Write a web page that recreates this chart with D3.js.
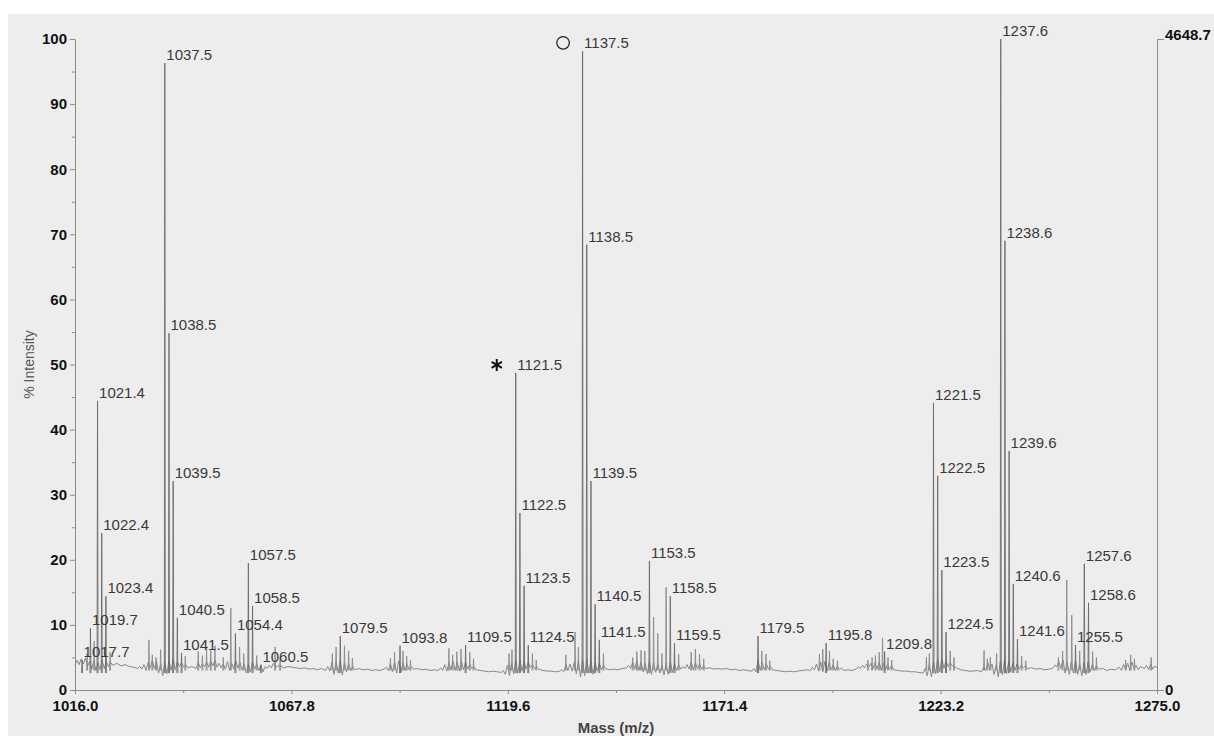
<!DOCTYPE html>
<html><head><meta charset="utf-8">
<script src="https://cdn.jsdelivr.net/npm/d3@7"></script>
<style>html,body{margin:0;padding:0;background:#fff;} svg{display:block;}</style>
</head><body>
<svg id="chart" width="1214" height="736"></svg>
<script>
// ---------------- DATA ----------------
const xTickValues = [1016.0, 1067.8, 1119.6, 1171.4, 1223.2, 1275.0];
const xMinorTicks = [1041.9, 1093.7, 1145.5, 1197.3, 1249.1];
const yTickValues = [0, 10, 20, 30, 40, 50, 60, 70, 80, 90, 100];
const yMinorTicks = [5, 15, 25, 35, 45, 55, 65, 75, 85, 95];
const fullScaleLabel = "4648.7";
const xTitle = "Mass (m/z)";
const yTitle = "% Intensity";

// labelled peaks: m/z and % intensity
const peakMz = [1017.7, 1019.7, 1021.4, 1022.4, 1023.4, 1037.5, 1038.5, 1039.5, 1040.5, 1041.5,
  1054.4, 1057.5, 1058.5, 1060.5, 1079.5, 1093.8, 1109.5, 1121.5, 1122.5, 1123.5, 1124.5,
  1137.5, 1138.5, 1139.5, 1140.5, 1141.5, 1153.5, 1158.5, 1159.5, 1179.5, 1195.8, 1209.8,
  1221.5, 1222.5, 1223.5, 1224.5, 1237.6, 1238.6, 1239.6, 1240.6, 1241.6, 1255.5, 1257.6, 1258.6];
const peakIntensity = [4.6, 9.5, 44.4, 24.1, 14.4, 96.3, 54.8, 32.1, 11.1, 5.7,
  8.7, 19.5, 12.9, 3.9, 8.3, 6.8, 6.9, 48.7, 27.2, 16.0, 6.9,
  98.1, 68.4, 32.1, 13.2, 7.7, 19.8, 14.4, 7.2, 8.3, 7.2, 5.9,
  44.1, 32.9, 18.4, 8.9, 100, 69.0, 36.7, 16.3, 7.8, 6.9, 19.4, 13.4];

// unlabelled minor peaks
const minorMz = [1018.9, 1020.6, 1024.4, 1033.7, 1034.5, 1035.4, 1036.5, 1042.4, 1045.5, 1046.5,
  1047.5, 1048.5, 1049.5, 1051.5, 1053.3, 1055.4, 1056.4, 1059.5, 1063.9, 1065.1,
  1077.6, 1078.5, 1080.5, 1081.5, 1082.4, 1091.5, 1092.5, 1094.5, 1095.4, 1096.3,
  1105.5, 1106.4, 1107.4, 1108.4, 1110.5, 1111.4, 1119.9, 1120.6, 1125.5, 1126.4,
  1133.5, 1135.7, 1136.5, 1142.5, 1149.5, 1150.5, 1151.5, 1152.4, 1154.5, 1155.5,
  1156.5, 1157.5, 1160.5, 1163.5, 1164.5, 1165.5, 1166.5, 1180.4, 1181.4, 1182.3,
  1194.2, 1195.0, 1196.6, 1197.5, 1198.5, 1205.8, 1206.8, 1207.6, 1208.5, 1209.3,
  1210.6, 1211.5, 1219.8, 1220.5, 1225.5, 1226.4, 1233.6, 1234.4, 1235.1, 1236.6,
  1242.6, 1243.6, 1251.4, 1252.4, 1253.4, 1254.6, 1256.5, 1259.6, 1260.5, 1267.5,
  1268.7, 1269.6, 1273.6];
const minorIntensity = [5.6, 7.5, 5.8, 7.7, 5.4, 5.0, 6.2, 5.2, 5.9, 5.3,
  6.4, 6.1, 6.8, 5.0, 12.6, 6.6, 5.6, 5.3, 6.6, 5.0,
  5.6, 6.6, 6.8, 6.0, 4.9, 4.9, 5.8, 6.0, 5.2, 4.6,
  6.4, 5.4, 5.9, 6.3, 5.8, 4.8, 5.6, 6.2, 5.6, 4.6,
  5.4, 8.9, 6.6, 5.6, 5.0, 5.9, 6.1, 6.0, 11.2, 8.7,
  5.6, 15.8, 5.5, 5.8, 6.3, 5.5, 4.8, 6.0, 5.5, 4.5,
  5.5, 6.3, 6.0, 4.8, 4.5, 4.6, 5.0, 5.3, 5.8, 8.0,
  5.0, 4.6, 5.0, 5.6, 6.0, 5.0, 6.1, 4.8, 5.0, 5.6,
  5.2, 4.5, 5.0, 6.0, 16.9, 11.5, 6.0, 5.9, 5.0, 4.6,
  5.4, 4.8, 5.0];

// baseline noise trace [m/z, % intensity]
const noise = [
 [1016.0,3.8],[1016.5,4.6],[1017.0,3.9],[1017.5,4.8],[1018.0,4.0],[1018.5,4.9],[1019.0,3.6],[1019.5,4.4],
 [1020.0,3.2],[1020.5,4.5],[1021.0,3.0],[1021.5,4.2],[1022.0,3.1],[1022.5,4.6],[1023.0,3.3],[1023.5,4.4],
 [1024.0,3.6],[1024.5,4.3],[1025.0,3.8],[1026.0,4.1],[1027.0,3.7],[1028.0,3.9],[1029.0,3.6],[1030.0,3.5],
 [1031.0,3.3],[1031.5,3.6],[1032.0,3.2],[1032.5,3.9],[1033.0,3.0],[1033.5,4.2],[1034.0,3.4],[1034.5,4.6],
 [1035.0,3.3],[1035.5,4.5],[1036.0,2.6],[1036.5,4.0],[1037.0,2.2],[1037.5,4.2],[1038.0,2.5],[1038.5,4.5],
 [1039.0,3.0],[1039.5,4.8],[1040.0,3.1],[1040.5,4.3],[1041.0,3.6],[1041.5,4.2],[1042.0,3.5],[1042.5,3.9],
 [1043.0,3.4],[1044.0,3.6],[1045.0,3.3],[1045.5,4.2],[1046.0,3.4],[1046.5,4.0],[1047.0,3.6],[1047.5,4.3],
 [1048.0,3.5],[1048.5,4.5],[1049.0,3.7],[1049.5,4.6],[1050.0,3.5],[1050.5,4.1],[1051.0,3.4],[1051.5,4.0],
 [1052.0,3.2],[1052.5,4.4],[1053.0,3.0],[1053.5,4.1],[1054.0,3.2],[1054.5,4.5],[1055.0,3.4],[1055.5,4.2],
 [1056.0,3.1],[1056.5,4.0],[1057.0,2.6],[1057.5,3.9],[1058.0,2.8],[1058.5,4.3],[1059.0,3.2],[1059.5,4.0],
 [1060.0,3.0],[1060.5,3.8],[1061.0,2.8],[1061.5,3.6],[1062.0,3.3],[1062.5,3.8],[1063.0,3.4],[1063.5,4.1],
 [1064.0,3.5],[1065.0,3.8],[1066.0,3.4],[1067.0,3.6],[1068.0,3.5],[1069.0,3.4],[1070.0,3.3],[1071.0,3.4],
 [1072.0,3.2],[1073.0,3.3],[1074.0,3.1],[1075.0,3.3],[1076.0,3.0],[1076.5,3.6],[1077.0,2.9],[1077.5,4.2],
 [1078.0,2.4],[1078.5,4.4],[1079.0,2.6],[1079.5,4.5],[1080.0,2.3],[1080.5,4.2],[1081.0,2.8],[1081.5,4.0],
 [1082.0,3.0],[1082.5,3.6],[1083.0,3.1],[1084.0,3.3],[1085.0,3.1],[1086.0,3.2],[1087.0,3.0],[1088.0,3.1],
 [1089.0,3.0],[1090.0,3.2],[1090.5,3.5],[1091.0,3.0],[1091.5,4.0],[1092.0,2.8],[1092.5,4.3],[1093.0,2.6],
 [1093.5,4.5],[1094.0,2.7],[1094.5,4.2],[1095.0,3.0],[1095.5,3.9],[1096.0,3.1],[1096.5,3.6],[1097.0,3.2],
 [1098.0,3.3],[1099.0,3.1],[1100.0,3.2],[1101.0,3.0],[1102.0,3.1],[1103.0,3.0],[1103.5,3.4],[1104.0,3.0],
 [1104.5,3.9],[1105.0,2.9],[1105.5,4.2],[1106.0,3.1],[1106.5,4.4],[1107.0,3.0],[1107.5,4.3],[1108.0,2.9],
 [1108.5,4.5],[1109.0,3.1],[1109.5,4.3],[1110.0,3.2],[1110.5,3.9],[1111.0,3.3],[1111.5,3.6],[1112.0,3.1],
 [1113.0,3.0],[1114.0,2.9],[1115.0,2.8],[1116.0,2.9],[1117.0,2.8],[1118.0,2.7],[1118.5,3.0],[1119.0,2.4],
 [1119.5,3.8],[1120.0,2.2],[1120.5,4.2],[1121.0,2.5],[1121.5,4.5],[1122.0,2.6],[1122.5,4.6],[1123.0,2.9],
 [1123.5,4.4],[1124.0,3.2],[1124.5,4.3],[1125.0,3.4],[1125.5,3.9],[1126.0,3.3],[1126.5,3.5],[1127.0,3.2],
 [1128.0,3.0],[1129.0,2.9],[1130.0,2.9],[1131.0,2.8],[1132.0,2.9],[1132.5,3.1],[1133.0,2.8],[1133.5,3.9],
 [1134.0,3.0],[1134.5,4.0],[1135.0,2.9],[1135.5,4.2],[1136.0,2.5],[1136.5,4.4],[1137.0,2.0],[1137.5,4.6],
 [1138.0,2.2],[1138.5,4.8],[1139.0,2.6],[1139.5,4.5],[1140.0,2.4],[1140.5,4.2],[1141.0,2.9],[1141.5,4.1],
 [1142.0,3.1],[1142.5,3.8],[1143.0,3.3],[1144.0,3.1],[1145.0,3.2],[1146.0,3.1],[1147.0,3.3],[1148.0,3.4],
 [1148.5,3.8],[1149.0,3.3],[1149.5,4.3],[1150.0,3.2],[1150.5,4.5],[1151.0,3.0],[1151.5,4.3],[1152.0,2.8],
 [1152.5,4.1],[1153.0,2.5],[1153.5,4.4],[1154.0,2.4],[1154.5,4.2],[1155.0,2.7],[1155.5,4.0],[1156.0,2.6],
 [1156.5,3.8],[1157.0,2.3],[1157.5,4.1],[1158.0,2.4],[1158.5,4.3],[1159.0,2.7],[1159.5,4.0],[1160.0,3.0],
 [1160.5,3.8],[1161.0,3.2],[1161.5,3.6],[1162.0,3.3],[1162.5,3.9],[1163.0,3.2],[1163.5,4.3],[1164.0,3.1],
 [1164.5,4.2],[1165.0,3.3],[1165.5,4.0],[1166.0,3.2],[1166.5,3.7],[1167.0,3.3],[1168.0,3.4],[1169.0,3.2],
 [1170.0,3.3],[1171.0,3.2],[1172.0,3.3],[1173.0,3.1],[1174.0,3.2],[1175.0,3.0],[1176.0,3.1],[1177.0,3.0],
 [1178.0,2.9],[1178.5,3.3],[1179.0,2.8],[1179.5,4.6],[1180.0,3.0],[1180.5,4.2],[1181.0,3.1],[1181.5,4.0],
 [1182.0,3.2],[1182.5,3.6],[1183.0,3.1],[1184.0,3.0],[1185.0,2.9],[1186.0,2.8],[1187.0,2.9],[1188.0,2.8],
 [1189.0,2.9],[1190.0,3.0],[1191.0,3.1],[1192.0,3.0],[1192.5,3.5],[1193.0,3.1],[1193.5,4.0],[1194.0,2.9],
 [1194.5,4.3],[1195.0,2.8],[1195.5,4.4],[1196.0,2.9],[1196.5,4.2],[1197.0,3.1],[1197.5,3.9],[1198.0,3.0],
 [1198.5,3.6],[1199.0,3.1],[1199.5,3.4],[1200.0,3.0],[1201.0,3.1],[1202.0,3.0],[1203.0,3.2],[1203.5,3.6],
 [1204.0,3.3],[1204.5,3.8],[1205.0,3.4],[1205.5,4.0],[1206.0,3.5],[1206.5,4.1],[1207.0,3.3],[1207.5,4.2],
 [1208.0,3.2],[1208.5,4.3],[1209.0,3.0],[1209.5,4.1],[1210.0,3.1],[1210.5,3.9],[1211.0,3.2],[1211.5,3.7],
 [1212.0,3.1],[1213.0,3.0],[1214.0,2.9],[1215.0,2.9],[1216.0,2.8],[1217.0,2.8],[1218.0,2.7],[1219.0,2.6],
 [1219.5,3.3],[1220.0,2.2],[1220.5,3.9],[1221.0,2.0],[1221.5,4.3],[1222.0,2.5],[1222.5,4.7],[1223.0,2.8],
 [1223.5,4.8],[1224.0,3.3],[1224.5,4.5],[1225.0,3.6],[1225.5,4.2],[1226.0,3.7],[1226.5,3.6],[1227.0,3.4],
 [1228.0,3.1],[1229.0,3.0],[1230.0,2.9],[1231.0,2.9],[1232.0,3.0],[1233.0,2.8],[1233.5,3.5],[1234.0,3.0],
 [1234.5,4.2],[1235.0,3.1],[1235.5,4.0],[1236.0,2.4],[1236.5,3.8],[1237.0,2.0],[1237.5,4.4],[1238.0,2.3],
 [1238.5,4.6],[1239.0,2.5],[1239.5,4.4],[1240.0,2.8],[1240.5,4.2],[1241.0,3.0],[1241.5,4.0],[1242.0,3.2],
 [1242.5,3.8],[1243.0,3.4],[1243.5,3.7],[1244.0,3.3],[1245.0,3.4],[1246.0,3.2],[1247.0,3.3],[1248.0,3.1],
 [1249.0,3.2],[1250.0,3.3],[1250.5,3.8],[1251.0,3.6],[1251.5,4.4],[1252.0,3.3],[1252.5,4.6],[1253.0,2.6],
 [1253.5,4.3],[1254.0,2.4],[1254.5,4.4],[1255.0,2.6],[1255.5,4.5],[1256.0,2.4],[1256.5,4.0],[1257.0,2.2],
 [1257.5,4.2],[1258.0,2.4],[1258.5,4.3],[1259.0,2.8],[1259.5,3.9],[1260.0,3.0],[1260.5,3.7],[1261.0,3.2],
 [1262.0,3.3],[1263.0,3.0],[1264.0,3.2],[1265.0,3.1],[1266.0,3.5],[1266.5,3.0],[1267.0,3.9],[1267.5,3.2],
 [1268.0,4.1],[1268.5,3.0],[1269.0,4.3],[1269.5,3.3],[1270.0,3.8],[1270.5,3.1],[1271.0,3.6],[1272.0,3.3],
 [1272.5,3.8],[1273.0,3.1],[1273.5,4.0],[1274.0,3.2],[1274.5,3.7],[1275.0,3.4]
];
const starredPeak = 1121.5;
const circledPeak = 1137.5;

// ---------------- DRAWING ----------------
const svg = d3.select("#chart");
const W = 1214, H = 736;
const plot = {left: 75, right: 1157, top: 39, bottom: 690};
const FONT = "'Liberation Sans', Arial, Helvetica, sans-serif";

svg.append("rect").attr("x", 8).attr("y", 14).attr("width", W - 8).attr("height", H - 14).attr("fill", "#ededed");

const x = d3.scaleLinear().domain([xTickValues[0], xTickValues[xTickValues.length - 1]]).range([plot.left, plot.right]);
const y = d3.scaleLinear().domain([0, 100]).range([plot.bottom, plot.top]);

const axisColor = "#8c8c8c";
function styleAxis(g) {
  g.attr("font-family", FONT).attr("font-size", 15).attr("font-weight", "bold");
  g.selectAll("path, line").attr("stroke", axisColor).attr("stroke-width", 1);
  g.selectAll("text").attr("fill", "#111");
}

// left axis
svg.append("g").attr("transform", `translate(${plot.left},0)`)
  .call(d3.axisLeft(y).tickValues(yTickValues).tickSize(5).tickSizeOuter(0).tickPadding(3).tickFormat(d3.format("d")))
  .call(styleAxis);
svg.append("g").attr("transform", `translate(${plot.left},0)`)
  .call(d3.axisLeft(y).tickValues(yMinorTicks).tickSize(3).tickFormat(""))
  .call(g => g.select(".domain").remove())
  .call(styleAxis);

// bottom axis
svg.append("g").attr("transform", `translate(0,${plot.bottom})`)
  .call(d3.axisBottom(x).tickValues(xTickValues).tickSize(4).tickSizeOuter(0).tickPadding(6).tickFormat(d3.format(".1f")))
  .call(styleAxis);
svg.append("g").attr("transform", `translate(0,${plot.bottom})`)
  .call(d3.axisBottom(x).tickValues(xMinorTicks).tickSize(3).tickFormat(""))
  .call(g => g.select(".domain").remove())
  .call(styleAxis);

// right axis (absolute counts)
const rightAxis = svg.append("g").attr("transform", `translate(${plot.right},0)`)
  .call(d3.axisRight(y).tickValues([0, 100]).tickSize(7).tickSizeOuter(0).tickPadding(1)
    .tickFormat(d => d === 0 ? "0" : fullScaleLabel))
  .call(styleAxis);
rightAxis.selectAll(".tick").filter(d => d === 100).select("text").attr("dy", "0em");

// axis titles
svg.append("text")
  .attr("x", (plot.left + plot.right) / 2).attr("y", 733)
  .attr("text-anchor", "middle").attr("font-family", FONT).attr("font-size", 15)
  .attr("font-weight", "bold").attr("fill", "#444").text(xTitle);
svg.append("text")
  .attr("transform", `translate(34,${(plot.top + plot.bottom) / 2}) rotate(-90)`)
  .attr("text-anchor", "middle").attr("font-family", FONT).attr("font-size", 14)
  .attr("fill", "#555").text(yTitle);

// noise trace
const line = d3.line().x(d => x(d[0])).y(d => y(d[1]));
svg.append("path").datum(noise).attr("d", line)
  .attr("fill", "none").attr("stroke", "#888").attr("stroke-width", 1).attr("stroke-linejoin", "round");

// peaks as narrow spikes
const HALF = 0.12;
function spike(mz, I, foot) { return line([[mz - HALF, foot], [mz, I], [mz + HALF, foot]]); }
const minorData = minorMz.map((m, i) => ({mz: m, I: minorIntensity[i]}));
const peakData = peakMz.map((m, i) => ({mz: m, I: peakIntensity[i]}));

svg.append("g").selectAll("path").data(minorData).join("path")
  .attr("d", d => spike(d.mz, d.I, 3.0)).attr("fill", "none").attr("stroke", "#8a8a8a").attr("stroke-width", 0.9);
svg.append("g").selectAll("path").data(peakData).join("path")
  .attr("d", d => spike(d.mz, d.I, 2.6)).attr("fill", "none").attr("stroke", "#6a6a6a").attr("stroke-width", 0.9);

// peak labels
const labelBase = d => y(d.I) - 3;
svg.append("g").selectAll("text").data(peakData).join("text")
  .attr("x", d => x(d.mz) + 1.5).attr("y", labelBase)
  .attr("font-family", FONT).attr("font-size", 15).attr("fill", "#3a3a3a")
  .text(d => d3.format(".1f")(d.mz));

// annotation marks
const star = peakData.find(d => d.mz === starredPeak);
svg.append("path")
  .attr("d", d3.symbol().type(d3.symbolAsterisk).size(100)())
  .attr("transform", `translate(${x(star.mz) - 19},${labelBase(star) - 5})`)
  .attr("fill", "none").attr("stroke", "#111").attr("stroke-width", 2);
const circ = peakData.find(d => d.mz === circledPeak);
svg.append("circle")
  .attr("cx", x(circ.mz) - 19.5).attr("cy", labelBase(circ) - 5.5).attr("r", 6.3)
  .attr("fill", "none").attr("stroke", "#222").attr("stroke-width", 1.3);
</script>
</body></html>
